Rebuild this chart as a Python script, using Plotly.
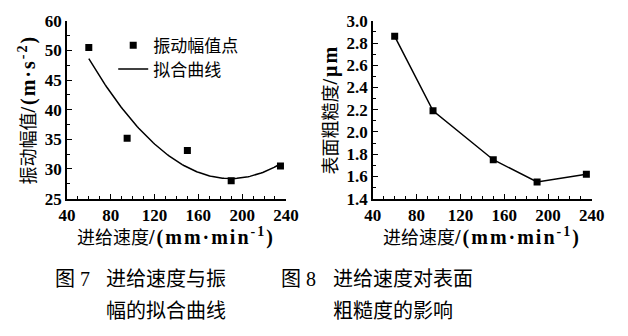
import numpy as np
import plotly.graph_objects as go

# Feed speed (mm/min)
feed = [60, 95, 150, 190, 235]
# Vibration amplitude (m/s^2) measured at each feed
amplitude = [50.5, 35.2, 33.1, 28.0, 30.5]
# Surface roughness (um) at each feed
roughness = [2.86, 2.19, 1.75, 1.55, 1.62]

x_ticks = [40, 80, 120, 160, 200, 240]
amp_ticks = [25, 30, 35, 40, 45, 50, 55]
amp_tick_text = ["25", "30", "35", "40", "45", "50", "60"]
rough_ticks = [1.4, 1.6, 1.8, 2.0, 2.2, 2.4, 2.6, 2.8, 3.0]

# Second-order least-squares fit of amplitude vs feed
coef = np.polyfit(feed, amplitude, 2)
fit_x = np.linspace(min(feed), max(feed), 120)
fit_y = np.polyval(coef, fit_x)

W, H = 628, 336
CJK = "Noto Sans CJK SC"
SERIF_CSS = "font-family:'Liberation Serif','Times New Roman',serif"
LAT = SERIF_CSS + ";font-size:20px;font-weight:bold;letter-spacing:2px"
TICK = SERIF_CSS + ";font-size:17px;font-weight:bold"


def serif_ticks(vals, fmt=None):
    return [f'<span style="{TICK}">{(fmt.format(v) if fmt else v)}</span>' for v in vals]


fig = go.Figure()

fig.add_trace(go.Scatter(
    x=feed, y=amplitude, mode="markers", name="振动幅值点", legend="legend",
    marker=dict(symbol="square", size=7, color="black"),
    xaxis="x", yaxis="y"))
fig.add_trace(go.Scatter(
    x=fit_x, y=fit_y, mode="lines", name="拟合曲线", legend="legend2",
    line=dict(color="black", width=1.5),
    xaxis="x", yaxis="y"))
fig.add_trace(go.Scatter(
    x=feed, y=roughness, mode="lines+markers", showlegend=False,
    marker=dict(symbol="square", size=7, color="black"),
    line=dict(color="black", width=1.5),
    xaxis="x2", yaxis="y2"))

common_axis = dict(
    showline=True, linecolor="black", linewidth=1.5,
    ticks="inside", ticklen=5, tickwidth=1.2, tickcolor="black",
    showgrid=False, zeroline=False,
    tickfont=dict(size=17, color="black"),
    mirror=False,
)

top = 1 - 12.5 / H
bottom = 1 - 201 / H
title_font = dict(family=CJK, size=18, color="black")
legend_style = dict(xanchor="left", yanchor="middle", bgcolor="rgba(0,0,0,0)",
                    font=dict(family=CJK, size=17, color="black"), itemwidth=30)

fig.update_layout(
    width=W, height=H,
    margin=dict(l=0, r=0, t=0, b=0),
    paper_bgcolor="white", plot_bgcolor="white",
    showlegend=True,
    legend=dict(legend_style, x=108 / W, y=1 - 39 / H),
    legend2=dict(legend_style, x=108 / W, y=1 - 64 / H),
    xaxis=dict(common_axis, domain=[60 / W, 287 / W], range=[40, 240],
               tickvals=x_ticks, ticktext=serif_ticks(x_ticks), anchor="y",
               minor=dict(ticks="inside", ticklen=3, dtick=10, tickcolor="black")),
    yaxis=dict(common_axis, domain=[bottom, top], range=[25, 55],
               tickvals=amp_ticks, ticktext=serif_ticks(amp_tick_text), anchor="x",
               minor=dict(ticks="inside", ticklen=3, dtick=2.5, tickcolor="black"),
               title=dict(text='振动幅值<span style="' + LAT + '">/(m·s<sup>-2</sup>)</span>',
                          standoff=4, font=title_font)),
    xaxis2=dict(common_axis, domain=[377 / W, 604 / W], range=[40, 240],
                tickvals=x_ticks, ticktext=serif_ticks(x_ticks), anchor="y2",
                minor=dict(ticks="inside", ticklen=3, dtick=10, tickcolor="black")),
    yaxis2=dict(common_axis, domain=[bottom, top], range=[1.4, 3.0],
                tickvals=rough_ticks, ticktext=serif_ticks(rough_ticks, "{:.1f}"),
                anchor="x2",
                minor=dict(ticks="inside", ticklen=3, dtick=0.1, tickcolor="black"),
                title=dict(text='表面粗糙度<span style="' + LAT + '">/μm</span>',
                           standoff=4, font=title_font)),
)

# X-axis titles placed just under the tick labels
x_title = '进给速度<span style="' + LAT + '">/(mm·min<sup>-1</sup>)</span>'
for cx in ((60 + 287) / 2, (377 + 604) / 2):
    fig.add_annotation(text=x_title, x=cx / W, y=1 - 225 / H, xref="paper", yref="paper",
                       xanchor="center", yanchor="top", showarrow=False, font=title_font)

# Figure captions: serif figure numbers, CJK caption text
NUM = SERIF_CSS + ";font-size:20px"
cap_font = dict(family=CJK, size=20, color="black")
captions = [
    (f'图<span style="{NUM}"> 7</span>', 46, 285), ("进给速度与振", 98, 285),
    ("幅的拟合曲线", 98, 318),
    (f'图<span style="{NUM}"> 8</span>', 280, 285), ("进给速度对表面", 334, 285),
    ("粗糙度的影响", 334, 318),
]
for text, px, py in captions:
    fig.add_annotation(text=text, x=px / W, y=1 - py / H, xref="paper", yref="paper",
                       xanchor="left", yanchor="middle", showarrow=False, font=cap_font)

fig.write_html("out.html")
